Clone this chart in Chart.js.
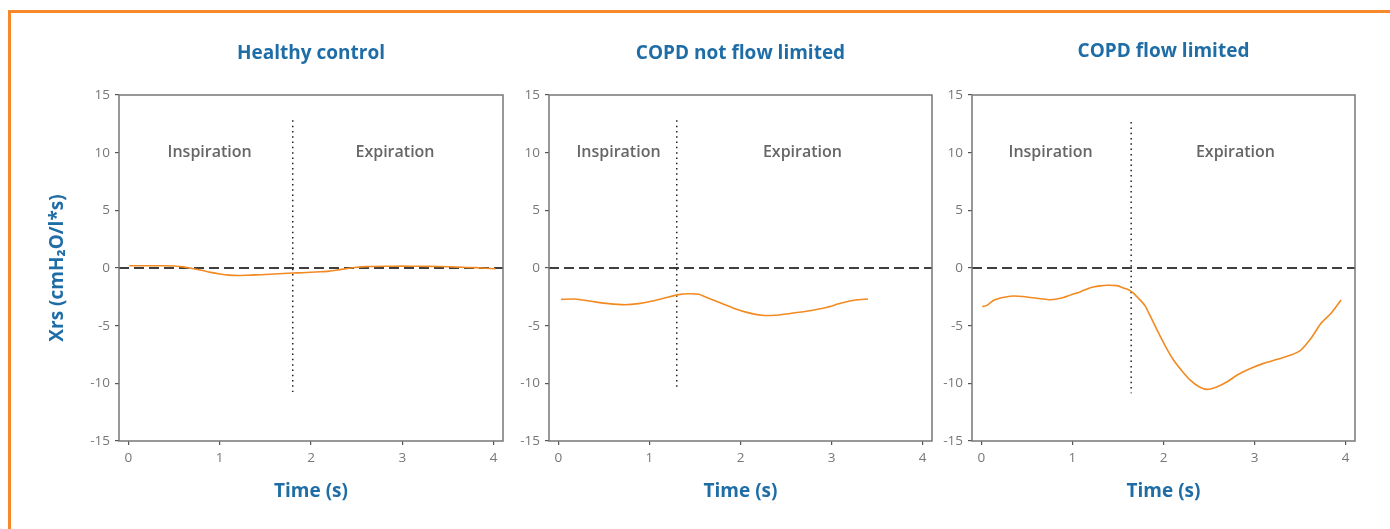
<!DOCTYPE html>
<html>
<head>
<meta charset="utf-8">
<script src="https://cdn.jsdelivr.net/npm/chart.js@4.4.1/dist/chart.umd.min.js"></script>
<style>
    html, body { margin: 0; padding: 0; background: #fff; width: 1390px; height: 529px; overflow: hidden; }
    .frame { position: absolute; left: 8px; top: 10px; width: 1500px; height: 600px;
             border-top: 3px solid #f7892b; border-left: 3px solid #f7892b; }
    .panel { position: absolute; top: 0; }
</style>
</head>
<body>
<div class="frame"></div>
<div class="panel" style="left:20px"><canvas id="healthyChart" width="488" height="529"></canvas></div>
<div class="panel" style="left:499px"><canvas id="notLimitedChart" width="438" height="529"></canvas></div>
<div class="panel" style="left:922px"><canvas id="limitedChart" width="438" height="529"></canvas></div>
<script>
'use strict';

// Xrs traces (time in s, Xrs in cmH2O/l*s)
var healthyTime = [0.01, 0.2, 0.4, 0.5, 0.6, 0.7, 0.8, 0.9, 1.0, 1.1, 1.2, 1.3, 1.4, 1.5, 1.6, 1.7,
                   1.8, 1.9, 2.0, 2.1, 2.2, 2.3, 2.4, 2.5, 2.6, 2.8, 3.0, 3.2, 3.4, 3.6, 3.8, 4.02];
var healthyXrs  = [0.2, 0.2, 0.2, 0.18, 0.1, -0.05, -0.2, -0.38, -0.52, -0.62, -0.65, -0.63, -0.6, -0.56, -0.52, -0.48,
                   -0.44, -0.41, -0.37, -0.33, -0.27, -0.16, -0.04, 0.06, 0.12, 0.15, 0.16, 0.15, 0.13, 0.08, 0.03, -0.07];

var notLimitedTime = [0.03, 0.18, 0.36, 0.55, 0.73, 0.88, 1.02, 1.17, 1.32, 1.43, 1.54, 1.65, 1.79, 1.94,
                      2.08, 2.23, 2.38, 2.56, 2.74, 2.93, 3.11, 3.26, 3.40];
var notLimitedXrs  = [-2.72, -2.69, -2.89, -3.09, -3.18, -3.09, -2.89, -2.6, -2.31, -2.23, -2.28, -2.63, -3.06, -3.53,
                      -3.87, -4.1, -4.1, -3.93, -3.73, -3.44, -3.04, -2.78, -2.69];

var limitedTime = [0.01, 0.06, 0.10, 0.14, 0.20, 0.25, 0.35, 0.50, 0.65, 0.76, 0.87, 0.98, 1.09, 1.16, 1.23, 1.30,
                   1.38, 1.49, 1.56, 1.62, 1.66, 1.75, 1.80, 1.84, 1.93, 2.02, 2.11, 2.21, 2.30, 2.39, 2.48,
                   2.59, 2.70, 2.81, 2.96, 3.10, 3.25, 3.40, 3.51, 3.62, 3.73, 3.84, 3.95];
var limitedXrs  = [-3.35, -3.24, -3.0, -2.78, -2.62, -2.54, -2.43, -2.51, -2.66, -2.75, -2.63, -2.34, -2.05, -1.82, -1.65, -1.55,
                   -1.5, -1.53, -1.73, -1.9, -2.11, -2.83, -3.3, -3.93, -5.38, -6.77, -7.98, -8.99, -9.77, -10.29, -10.52,
                   -10.29, -9.86, -9.28, -8.7, -8.27, -7.92, -7.55, -7.11, -6.1, -4.8, -3.93, -2.78];

var panelTitles = ['Healthy control', 'COPD not flow limited', 'COPD flow limited'];
var xTicks = [0, 1, 2, 3, 4];
var yTicks = [-15, -10, -5, 0, 5, 10, 15];
var xRange = [-0.103, 4.103];
var yRange = [-15, 15];

// inspiration / expiration split and the phase label anchors
var phaseBoundary = [1.8, 1.3, 1.645];
var boundaryTop = [12.8, 12.8, 12.65];
var boundaryBottom = [-10.75, -10.6, -10.85];
var inspirationAt = [0.89, 0.66, 0.76];
var expirationAt = [2.92, 2.68, 2.79];
var phaseLabelLevel = 10;

var titleBlue = '#1f6da6';
var traceOrange = '#f28a21';
var axisGrey = '#777';

var panelText = {
    id: 'panelText',
    afterDraw: function (chart, args, opts) {
        var ctx = chart.ctx,
            area = chart.chartArea,
            xs = chart.scales.x,
            ys = chart.scales.y;
        ctx.save();
        ctx.strokeStyle = axisGrey;
        ctx.lineWidth = 1.5;
        ctx.strokeRect(area.left, area.top, area.right - area.left, area.bottom - area.top);

        ctx.textAlign = 'center';
        ctx.textBaseline = 'middle';
        ctx.fillStyle = titleBlue;
        ctx.font = 'bold 19px "Open Sans"';
        ctx.fillText(opts.title, (area.left + area.right) / 2, area.top - 41 + opts.titleShift);

        ctx.fillStyle = '#666';
        ctx.font = '600 16px "Open Sans"';
        ctx.fillText('Inspiration', xs.getPixelForValue(opts.insp), ys.getPixelForValue(phaseLabelLevel));
        ctx.fillText('Expiration', xs.getPixelForValue(opts.exp), ys.getPixelForValue(phaseLabelLevel));
        ctx.restore();
    }
};

function toPoints(xv, yv) {
    return xv.map(function (x, i) { return { x: x, y: yv[i] }; });
}

function makePanel(canvasId, idx, timeArr, xrsArr, yAxisWidth, showYTitle) {
    return new Chart(document.getElementById(canvasId), {
        type: 'line',
        data: {
            datasets: [
                {
                    data: toPoints(timeArr, xrsArr),
                    borderColor: traceOrange,
                    borderWidth: 1.6,
                    pointRadius: 0,
                    tension: 0.25,
                    fill: false
                },
                {
                    data: [{ x: xRange[0], y: 0 }, { x: xRange[1], y: 0 }],
                    borderColor: '#000',
                    borderWidth: 1.4,
                    borderDash: [10, 5],
                    pointRadius: 0
                },
                {
                    data: [{ x: phaseBoundary[idx], y: boundaryTop[idx] }, { x: phaseBoundary[idx], y: boundaryBottom[idx] }],
                    borderColor: '#222',
                    borderWidth: 1.5,
                    borderDash: [1.5, 3.8],
                    pointRadius: 0
                }
            ]
        },
        options: {
            responsive: false,
            animation: false,
            layout: { padding: { top: 95, bottom: 18, left: 0, right: 5 } },
            plugins: {
                legend: { display: false },
                tooltip: { enabled: false },
                panelText: {
                    title: panelTitles[idx],
                    titleShift: idx === 2 ? -2 : 0,
                    insp: inspirationAt[idx],
                    exp: expirationAt[idx]
                }
            },
            scales: {
                x: {
                    type: 'linear',
                    min: xRange[0],
                    max: xRange[1],
                    afterBuildTicks: function (scale) {
                        scale.ticks = xTicks.map(function (v) { return { value: v }; });
                    },
                    afterFit: function (scale) { scale.height = 70; },
                    border: { display: false },
                    grid: { display: true, drawOnChartArea: false, drawTicks: true, tickLength: 4, color: '#555', lineWidth: 1.2 },
                    ticks: { color: axisGrey, padding: 5, maxRotation: 0, font: { family: '"Open Sans"', size: 13.5 } },
                    title: {
                        display: true,
                        text: 'Time (s)',
                        color: titleBlue,
                        padding: { top: 0, bottom: 7.6 },
                        font: { family: '"Open Sans"', size: 19, weight: 'bold' }
                    }
                },
                y: {
                    type: 'linear',
                    min: yRange[0],
                    max: yRange[1],
                    afterBuildTicks: function (scale) {
                        scale.ticks = yTicks.map(function (v) { return { value: v }; });
                    },
                    afterFit: function (scale) { scale.width = yAxisWidth; },
                    border: { display: false },
                    grid: { display: true, drawOnChartArea: false, drawTicks: true, tickLength: 4, color: '#555', lineWidth: 1.2 },
                    ticks: { color: axisGrey, padding: 5, font: { family: '"Open Sans"', size: 13.5 } },
                    title: {
                        display: showYTitle,
                        text: 'Xrs (cmH\u2082O/l*s)',
                        color: titleBlue,
                        padding: { top: 26.6, bottom: 0 },
                        font: { family: '"Open Sans"', size: 19, weight: 'bold' }
                    }
                }
            }
        },
        plugins: [panelText]
    });
}

makePanel('healthyChart', 0, healthyTime, healthyXrs, 99, true);
makePanel('notLimitedChart', 1, notLimitedTime, notLimitedXrs, 50, false);
makePanel('limitedChart', 2, limitedTime, limitedXrs, 50, false);
</script>
</body>
</html>
